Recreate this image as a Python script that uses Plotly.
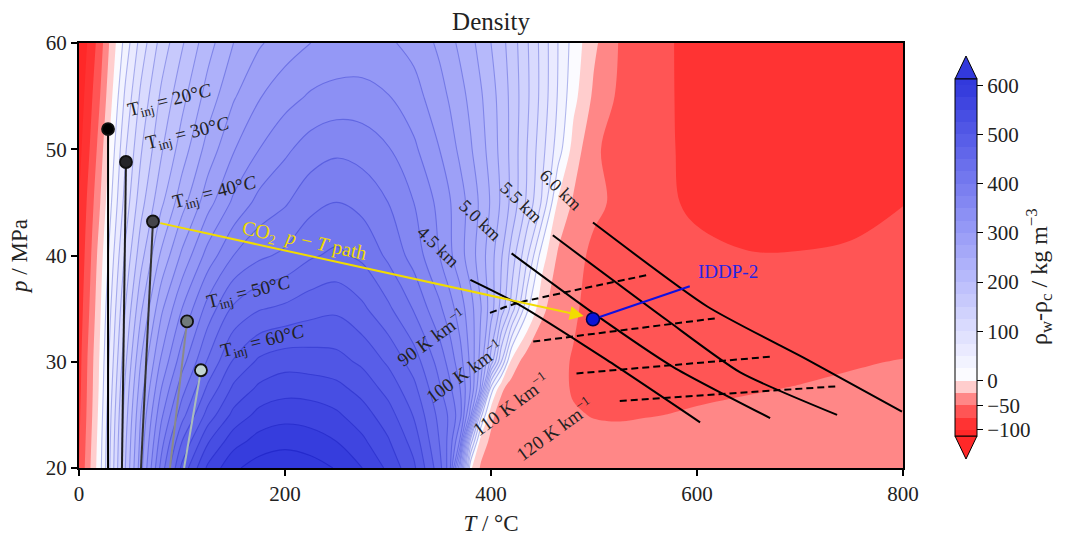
import plotly.graph_objects as go

# ---------------- data ----------------
T_GRID = [0, 10, 20, 30, 45, 60, 80, 100, 125, 150, 175, 200, 225, 250, 275, 300, 325, 350,
          360, 370, 380, 390, 400, 410, 420, 435, 450, 465, 480, 500, 525, 550, 575, 600,
          650, 700, 750, 800]
P_GRID = [20, 22.5, 25, 27.5, 30, 35, 40, 45, 50, 55, 60]

DRHO_P20 = [-75, -30, 15, 75, 175, 265, 385, 482, 555, 595, 612, 618, 612, 598, 575, 545, 505, 435,
            385, 220, 5, -28, -33, -36, -38, -40, -41, -42, -43, -44, -44, -44, -43, -42, -40, -38, -36, -34]
DRHO_P22 = [-78, -34, 12, 72, 170, 258, 365, 450, 522, 565, 585, 592, 586, 575, 555, 528, 490, 424,
            390, 320, 90, -12, -30, -36, -40, -43, -45, -46, -47, -47, -47, -46, -45, -44, -42, -40, -38, -36]
DRHO_P25 = [-80, -38, 8, 68, 163, 250, 345, 415, 485, 532, 558, 566, 564, 554, 536, 511, 473, 417,
            395, 360, 265, 60, -18, -38, -45, -46, -47, -48, -49, -50.5, -51, -50.5, -49.8, -49, -47, -46, -45, -44]
DRHO_P27 = [-83, -40, 4, 62, 155, 238, 325, 390, 455, 505, 530, 540, 538, 532, 516, 491, 457, 403,
            380, 350, 300, 220, 40, -20, -36, -42, -45, -47, -51, -55, -55, -54, -53, -52, -51, -49.5, -48, -47]
DRHO_P30 = [-85, -42, 2, 56, 145, 225, 305, 365, 428, 478, 505, 515, 513, 509, 495, 471, 438, 390,
            365, 335, 295, 240, 165, 75, -8, -40, -46, -47, -51, -56, -57, -57, -56, -55, -54, -53, -51, -49.5]
DRHO_P35 = [-90, -50, -6, 45, 125, 195, 270, 325, 385, 430, 448, 455, 465, 470, 455, 430, 398, 355,
            335, 312, 285, 252, 212, 165, 115, 30, -20, -40, -48, -55, -60, -61, -62, -62, -61, -60, -59, -58]
DRHO_P40 = [-95, -58, -14, 32, 105, 165, 230, 280, 335, 375, 395, 405, 422, 430, 420, 395, 365, 325,
            305, 285, 262, 238, 210, 178, 140, 80, 10, -28, -42, -55, -62, -66, -69, -72.5, -74.6, -74.7, -74.2, -72.5]
DRHO_P45 = [-100, -66, -28, 18, 85, 140, 195, 240, 290, 330, 358, 372, 392, 400, 392, 375, 350, 318,
            302, 285, 266, 245, 222, 196, 168, 120, 70, -3, -28, -45, -55, -63, -74, -77, -79, -78, -77, -75.2]
DRHO_P50 = [-108, -76, -40, 5, 72, 122, 172, 212, 260, 298, 325, 345, 362, 370, 365, 352, 330, 300,
            285, 270, 253, 235, 215, 192, 168, 125, 82, 38, -10, -47, -58, -66, -74, -80, -84, -85, -84, -82]
DRHO_P55 = [-115, -85, -52, -10, 55, 105, 155, 192, 235, 272, 298, 315, 328, 334, 334, 326, 310, 284,
            272, 258, 244, 228, 210, 190, 168, 130, 90, 48, 8, -30, -55, -65, -74, -82, -88, -90, -89, -87]
DRHO_P60 = [-122, -94, -64, -22, 35, 85, 135, 172, 215, 250, 272, 288, 300, 306, 308, 304, 292, 270,
            257, 245, 232, 217, 200, 183, 164, 128, 90, 50, 15, -20, -52, -66, -74, -83, -90, -93, -93, -92]
DRHO = [DRHO_P20, DRHO_P22, DRHO_P25, DRHO_P27, DRHO_P30, DRHO_P35, DRHO_P40,
        DRHO_P45, DRHO_P50, DRHO_P55, DRHO_P60]

INJ_NAMES = ["20", "30", "40", "50", "60"]
INJ_T_BASE = [28.2, 41.7, 60.2, 88.3, 102.0]
INJ_T_TOP = [28.2, 45.6, 71.8, 104.9, 118.4]
INJ_P_TOP = [51.9, 48.8, 43.2, 33.8, 29.2]

DEPTH_KM = ["4.5", "5.0", "5.5", "6.0"]
DEPTH_T = [[380, 425, 512, 603], [420, 499, 577, 671], [460, 571, 642, 736], [499, 610, 707, 799]]
DEPTH_P = [[37.7, 35.5, 30.2, 24.3], [40.2, 34.6, 29.5, 24.7], [41.9, 33.9, 29.0, 25.0], [43.1, 35.2, 30.2, 25.3]]

GRAD = ["90", "100", "110", "120"]
GRAD_T = [[399, 425, 554], [441, 619], [483, 674], [525, 737]]
GRAD_P = [[34.6, 35.5, 38.2], [31.9, 34.1], [28.9, 30.5], [26.3, 27.7]]
GRAD_LABEL_T = [342, 374, 419, 461]
GRAD_LABEL_P = [32.3, 29.1, 26.0, 23.7]

IDDP_T, IDDP_P = 499, 34.0
PATH_END_T, PATH_END_P = 490, 34.3

CB_TICKS = [-100, -50, 0, 100, 200, 300, 400, 500, 600]

# ---------------- styling helpers ----------------
START, END, SIZE = -100, 600, 25
RED_PTS = [(-112.5, 40), (-87.5, 51), (-62.5, 85), (-37.5, 135), (-12.5, 205), (0, 255)]


def interp(pts, v):
    if v <= pts[0][0]:
        return pts[0][1]
    for (x0, y0), (x1, y1) in zip(pts[:-1], pts[1:]):
        if v <= x1:
            return y0 + (y1 - y0) * (v - x0) / (x1 - x0)
    return pts[-1][1]


def band_rgb(v):
    if v < 0:
        g = interp(RED_PTS, v)
        return (255, g, g)
    f = min(v, 600) / 600.0
    return (255 - 205 * f, 255 - 198 * f, 255 - 35 * f * f)


def css(rgb, k=(1.0, 1.0, 1.0)):
    r, g, b = [max(0, min(255, int(round(c * kk)))) for c, kk in zip(rgb, k)]
    return f"rgb({r},{g},{b})"


n_bands = int((END - START) / SIZE) + 1  # 29 levels -> 30 fill bands
fill_cs = []
for k in range(n_bands + 1):
    m = START - SIZE / 2 + SIZE * k
    fill_cs.append([k / n_bands, css(band_rgb(m))])

LSTART = 25
n_lines = int((END - LSTART) / SIZE) + 1
line_cs = []
for k in range(n_lines):
    lv = LSTART + SIZE * k
    line_cs.append([k / (n_lines - 1), css(band_rgb(lv), (0.72, 0.74, 0.93))])

FONT = "Liberation Serif"
TXT = "#222"

# plot-area pixel geometry (for paper-referenced decorations)
L, R, TOP, BOT = 79, 903, 43, 468
W, H = R - L, BOT - TOP


def px2paper(px, py):
    return (px - L) / W, (BOT - py) / H


fig = go.Figure()

cb_len_px = 357.0
cb_mid_px = 257.5
fig.add_trace(go.Contour(
    x=T_GRID, y=P_GRID, z=DRHO,
    autocontour=False,
    contours=dict(start=START, end=END, size=SIZE, coloring="fill", showlines=False),
    colorscale=fill_cs,
    line=dict(width=0, smoothing=1),
    colorbar=dict(
        x=(955 - L) / W, xanchor="left", y=(BOT - cb_mid_px) / H, yanchor="middle",
        len=cb_len_px / H, lenmode="fraction", thickness=22, ypad=0, xpad=0,
        outlinewidth=1, outlinecolor="black",
        tickvals=CB_TICKS, ticktext=[("\u2212" + str(-t)) if t < 0 else str(t) for t in CB_TICKS],
        ticks="outside", ticklen=6, tickcolor="black",
        tickfont=dict(family=FONT, size=21, color=TXT),
    ),
    hoverinfo="skip",
))

fig.add_trace(go.Contour(
    x=T_GRID, y=P_GRID, z=DRHO,
    autocontour=False,
    contours=dict(start=LSTART, end=END, size=SIZE, coloring="lines"),
    colorscale=line_cs,
    line=dict(width=1.1, smoothing=1),
    showscale=False,
    hoverinfo="skip",
))

# injection lines
inj_line_colors = ["#000000", "#1e1e1e", "#333333", "#8a8a8a", "#aabcbc"]
inj_dot_colors = ["#000000", "#252528", "#45454a", "#707a7a", "#c2d4d2"]
for i in range(len(INJ_NAMES)):
    fig.add_trace(go.Scatter(
        x=[INJ_T_BASE[i], INJ_T_TOP[i]], y=[20, INJ_P_TOP[i]], mode="lines",
        line=dict(color=inj_line_colors[i], width=2), showlegend=False, hoverinfo="skip"))

# depth isolines
for i in range(len(DEPTH_KM)):
    fig.add_trace(go.Scatter(
        x=DEPTH_T[i], y=DEPTH_P[i], mode="lines",
        line=dict(color="black", width=2, shape="spline", smoothing=0.6),
        showlegend=False, hoverinfo="skip"))

# geothermal gradients
for i in range(len(GRAD)):
    fig.add_trace(go.Scatter(
        x=GRAD_T[i], y=GRAD_P[i], mode="lines",
        line=dict(color="black", width=2, dash="7px,4px", shape="spline", smoothing=0.6),
        showlegend=False, hoverinfo="skip"))

# IDDP-2 leader line
fig.add_trace(go.Scatter(x=[IDDP_T, 593], y=[IDDP_P, 37.1], mode="lines",
                         line=dict(color="#1010e0", width=2), showlegend=False, hoverinfo="skip"))

# dots
for i in range(len(INJ_NAMES)):
    fig.add_trace(go.Scatter(
        x=[INJ_T_TOP[i]], y=[INJ_P_TOP[i]], mode="markers",
        marker=dict(size=12, color=inj_dot_colors[i], line=dict(color="#111", width=1.8)),
        showlegend=False, hoverinfo="skip"))

fig.add_trace(go.Scatter(
    x=[IDDP_T], y=[IDDP_P], mode="markers",
    marker=dict(size=13, color="#0a14d8", line=dict(color="#000050", width=1.5)),
    showlegend=False, hoverinfo="skip"))

annotations = []
# yellow path arrow
annotations.append(dict(
    x=PATH_END_T, y=PATH_END_P, ax=INJ_T_TOP[2], ay=INJ_P_TOP[2],
    xref="x", yref="y", axref="x", ayref="y",
    showarrow=True, arrowhead=2, arrowsize=1.4, arrowwidth=2, arrowcolor="#f2dc00",
    startstandoff=6, text=""))

for i, name in enumerate(INJ_NAMES):
    annotations.append(dict(
        x=INJ_T_TOP[i] + 60, y=INJ_P_TOP[i] + 2.65, xref="x", yref="y",
        text=f"T<sub>inj</sub> = {name}\u00b0<i>C</i>", showarrow=False, textangle=-14,
        font=dict(family=FONT, size=19, color=TXT)))

for i, d in enumerate(DEPTH_KM):
    annotations.append(dict(
        x=DEPTH_T[i][0] - 31, y=DEPTH_P[i][0] + 3.1, xref="x", yref="y",
        text=f"{d} km", showarrow=False, textangle=44,
        font=dict(family=FONT, size=18, color=TXT)))

for i, g in enumerate(GRAD):
    annotations.append(dict(
        x=GRAD_LABEL_T[i], y=GRAD_LABEL_P[i], xref="x", yref="y",
        text=f"{g} K km<sup>\u22121</sup>", showarrow=False, textangle=-36,
        font=dict(family=FONT, size=19, color=TXT)))

annotations.append(dict(
    x=219, y=41.3, xref="x", yref="y",
    text="CO<sub>2</sub>  <i>p</i> \u2212 <i>T</i> path", showarrow=False, textangle=12,
    font=dict(family=FONT, size=20, color="#f0da00")))

annotations.append(dict(
    x=630, y=38.5, xref="x", yref="y", text="IDDP-2", showarrow=False,
    font=dict(family=FONT, size=19, color="#2424e6")))

# colorbar title (vertical)
cbx, cby = px2paper(1058, 277)
annotations.append(dict(
    x=cbx, y=cby, xref="paper", yref="paper", showarrow=False, textangle=-90,
    text="\u03c1<sub>w</sub>-\u03c1<sub>c</sub> / kg m<sup>\u22123</sup>",
    font=dict(family=FONT, size=24, color=TXT)))

# colorbar extension triangles
top_base = cb_mid_px - cb_len_px / 2
bot_base = cb_mid_px + cb_len_px / 2
shapes = []
tx0, ty0 = px2paper(955, top_base)
tx1, _ = px2paper(977, top_base)
tax, tay = px2paper(966, top_base - 23)
shapes.append(dict(type="path", xref="paper", yref="paper",
                   path=f"M {tx0} {ty0} L {tax} {tay} L {tx1} {ty0} Z",
                   fillcolor=css(band_rgb(612.5)), line=dict(color="black", width=1)))
bx0, by0 = px2paper(955, bot_base)
bx1, _ = px2paper(977, bot_base)
bax, bay = px2paper(966, bot_base + 23)
shapes.append(dict(type="path", xref="paper", yref="paper",
                   path=f"M {bx0} {by0} L {bax} {bay} L {bx1} {by0} Z",
                   fillcolor="rgb(255,40,40)", line=dict(color="black", width=1)))

fig.update_layout(
    width=1069, height=538,
    margin=dict(l=L, r=1069 - R, t=TOP, b=538 - BOT, autoexpand=False),
    paper_bgcolor="white", plot_bgcolor="white",
    title=dict(text="Density", x=(L + W / 2) / 1069, xanchor="center", y=1 - 21 / 538, yanchor="middle",
               font=dict(family=FONT, size=25, color=TXT)),
    xaxis=dict(range=[0, 800], tickvals=[0, 200, 400, 600, 800], ticks="outside", ticklen=6,
               tickwidth=1.5, tickcolor="black", showline=True, linecolor="black", linewidth=2,
               mirror=True, showgrid=False, zeroline=False,
               tickfont=dict(family=FONT, size=21, color=TXT),
               title=dict(text="<i>T</i> / \u00b0C", font=dict(family=FONT, size=23, color=TXT), standoff=10)),
    yaxis=dict(range=[20, 60], tickvals=[20, 30, 40, 50, 60], ticks="outside", ticklen=6,
               tickwidth=1.5, tickcolor="black", showline=True, linecolor="black", linewidth=2,
               mirror=True, showgrid=False, zeroline=False,
               tickfont=dict(family=FONT, size=21, color=TXT),
               title=dict(text="<i>p</i> / MPa", font=dict(family=FONT, size=23, color=TXT), standoff=12)),
    annotations=annotations,
    shapes=shapes,
    showlegend=False,
)

fig.write_html("out.html")
